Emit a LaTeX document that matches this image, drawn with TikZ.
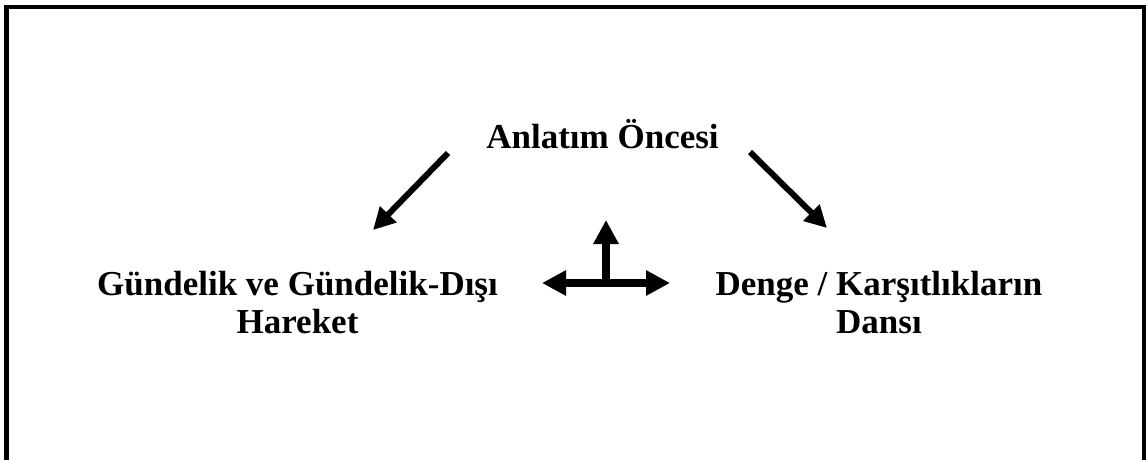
\documentclass[tikz,border=0pt]{standalone}
\usepackage{fontspec}
\setmainfont{Liberation Serif}
\usetikzlibrary{arrows.meta}
\begin{document}
\begin{tikzpicture}[x=1pt,y=-1pt,
  lbl/.style={font=\bfseries\fontsize{35}{38}\selectfont, align=center, inner sep=0pt, anchor=base},
  thinarrow/.style={line width=6pt, -{Triangle[length=22pt,width=22pt]}},
  bigarrow/.style={line width=8pt, -{Triangle[length=24pt,width=24pt]}},
  bigarrows/.style={line width=8pt, {Triangle[length=24pt,width=24pt]}-{Triangle[length=24pt,width=24pt]}}]
\useasboundingbox (0,0) rectangle (1146,459);
\draw[line width=4.5pt] (6.5,470) -- (6.5,7) -- (1144.5,7) -- (1144.5,470);
\node[lbl] (top) at (602.5,148) {Anlatım Öncesi};
\node[lbl] (left) at (297.5,333) {Gündelik ve Gündelik-Dışı\\Hareket};
\node[lbl] (right) at (879,333) {Denge / Karşıtlıkların\\Dansı};
\coordinate (la) at (448,153);
\coordinate (lb) at (373,230);
\coordinate (ra) at (750,152);
\coordinate (rb) at (827,228);
\coordinate (hl) at (542,283);
\coordinate (hr) at (670,283);
\coordinate (vb) at (606,287);
\coordinate (vt) at (606,220);
\draw[thinarrow] (la) -- (lb);
\draw[thinarrow] (ra) -- (rb);
\draw[bigarrows] (hl) -- (hr);
\draw[bigarrow] (vb) -- (vt);
\end{tikzpicture}
\end{document}
